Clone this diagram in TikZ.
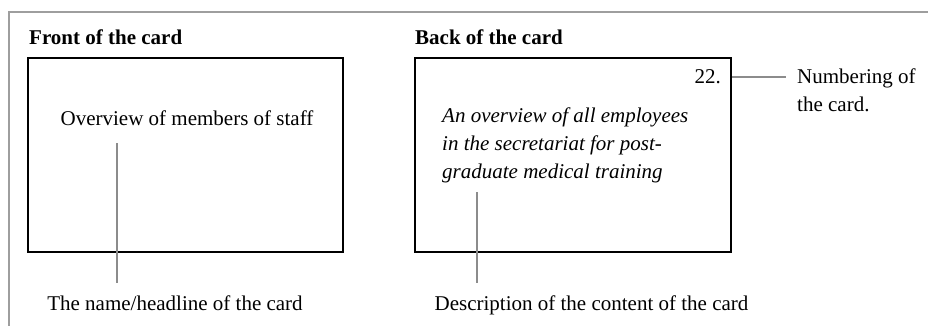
\documentclass[tikz,border=0pt]{standalone}
\usepackage{fontspec}
\setmainfont{Liberation Serif}
\begin{document}
\begin{tikzpicture}[x=1pt,y=-1pt,
  txt/.style={inner sep=0pt, font=\fontsize{21}{28}\selectfont},
  title/.style={txt, font=\fontsize{21}{28}\selectfont\bfseries},
  card/.style={draw=black, line width=1.6pt, fill=none},
  conn/.style={draw=black!45, line width=1.1pt},
  frame/.style={draw=black!38, line width=1.2pt}]
\useasboundingbox (0,0) rectangle (928,325);
\draw[frame] (9,326) -- (9,12) -- (929,12);
% titles
\node[title, anchor=base west] (tfront) at (29,44) {Front of the card};
\node[title, anchor=base west] (tback) at (415,44) {Back of the card};
% cards
\draw[card] (28,58) rectangle (343,252);
\draw[card] (415,58) rectangle (731,252);
% front content
\node[txt, anchor=base] (ov) at (187,125) {Overview of members of staff};
\coordinate (fa) at (117,143);
\coordinate (fb) at (117,283);
\node[txt, anchor=base] (fname) at (175,310) {The name/headline of the card};
\draw[conn] (fa) -- (fb);
% back content
\node[txt, anchor=base east] (num) at (721,83) {22.};
\coordinate (na) at (732,77);
\coordinate (nb) at (786,77);
\draw[conn] (na) -- (nb);
\node[txt, anchor=north west, align=left] (numlab) at (797,68.5) {Numbering of\\the card.};
\node[txt, anchor=north west, align=left, font=\fontsize{21}{28}\selectfont\itshape] (desc) at (442,107.5) {An overview of all employees\\in the secretariat for post-\\graduate medical training};
\coordinate (da) at (477,192);
\coordinate (db) at (477,283);
\draw[conn] (da) -- (db);
\node[txt, anchor=base] (dlab) at (591.5,310) {Description of the content of the card};
\end{tikzpicture}
\end{document}
